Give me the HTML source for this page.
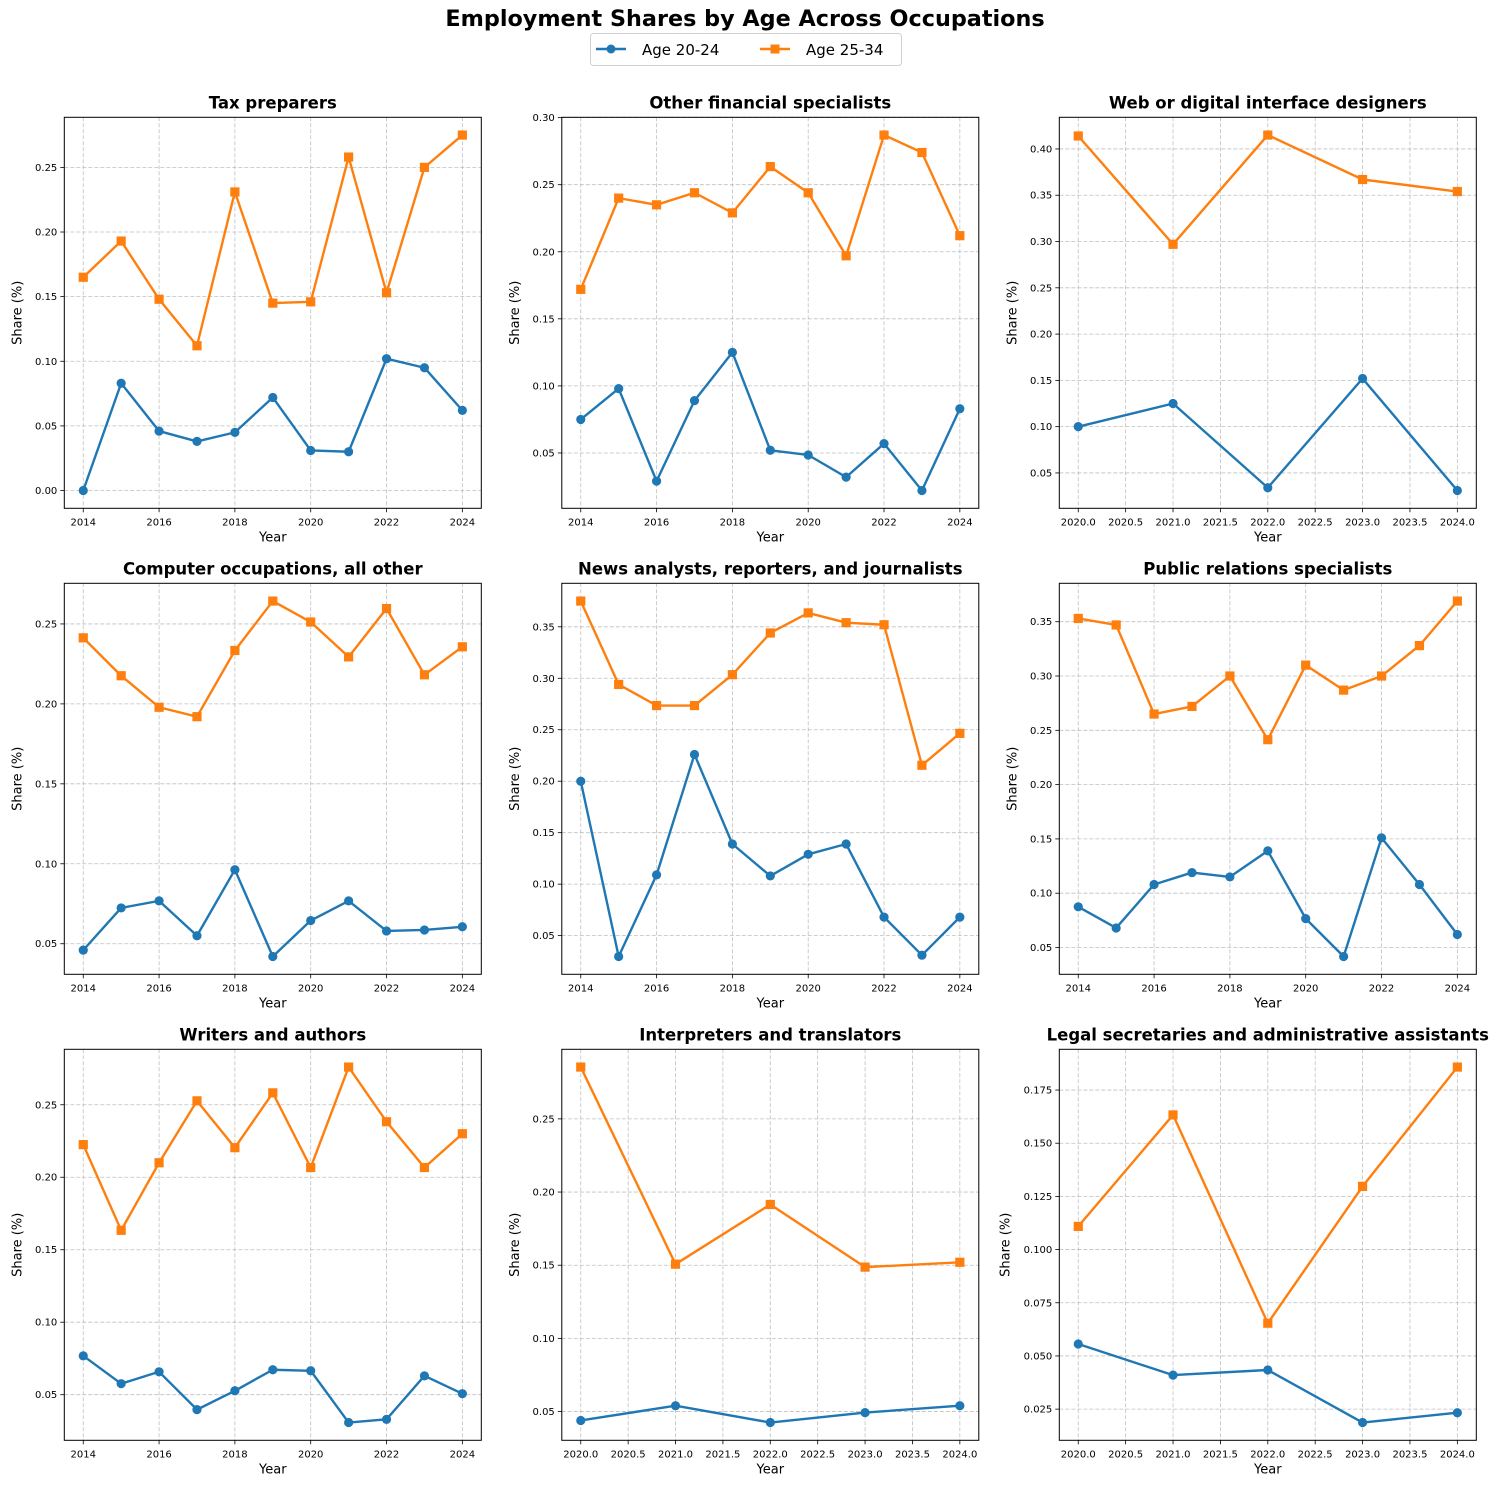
<!DOCTYPE html>
<html><head><meta charset="utf-8">
<style>
html,body{margin:0;padding:0;background:#fff;}
svg{display:block;font-family:"DejaVu Sans","Liberation Sans",sans-serif;}
</style></head>
<body>
<svg id="fig" width="1499" height="1490" viewBox="0 0 1499 1490" xmlns="http://www.w3.org/2000/svg">
<rect width="1499" height="1490" fill="#fff"/>
<text x="745" y="26" text-anchor="middle" font-size="22.3" font-weight="bold">Employment Shares by Age Across Occupations</text>
<g>
<rect x="590.5" y="33.5" width="311" height="32" rx="3" fill="#fff" stroke="#d0d0d0"/>
<g>
<line x1="596" y1="49" x2="626" y2="49" stroke="#1f77b4" stroke-width="2.4"/>
<circle cx="611" cy="49" r="4.5" fill="#1f77b4"/>
<text x="642" y="55" font-size="15">Age 20-24</text>
</g>
<g>
<line x1="760" y1="49" x2="790" y2="49" stroke="#ff7f0e" stroke-width="2.4"/>
<rect x="770.5" y="44.5" width="9" height="9" fill="#ff7f0e"/>
<text x="806" y="55" font-size="15">Age 25-34</text>
</g>
</g>
<g id="panels"></g>
</svg>
<script>
// ---- data ----
const panelTitles = ["Tax preparers","Other financial specialists","Web or digital interface designers","Computer occupations, all other","News analysts, reporters, and journalists","Public relations specialists","Writers and authors","Interpreters and translators","Legal secretaries and administrative assistants"];
const yearsLong = [2014,2015,2016,2017,2018,2019,2020,2021,2022,2023,2024];
const yearsShort = [2020,2021,2022,2023,2024];
const xTicksLong = [2014,2016,2018,2020,2022,2024];
const xTicksShort = [2020,2020.5,2021,2021.5,2022,2022.5,2023,2023.5,2024];
const taxAge2024 = [0,0.083,0.046,0.038,0.045,0.072,0.031,0.030,0.102,0.095,0.062];
const taxAge2534 = [0.165,0.193,0.148,0.112,0.231,0.145,0.146,0.258,0.153,0.250,0.275];
const finAge2024 = [0.075,0.098,0.029,0.089,0.125,0.052,0.0485,0.032,0.057,0.022,0.083];
const finAge2534 = [0.172,0.240,0.235,0.244,0.229,0.2635,0.244,0.197,0.287,0.274,0.212];
const webAge2024 = [0.100,0.125,0.034,0.152,0.031];
const webAge2534 = [0.414,0.297,0.415,0.367,0.354];
const compAge2024 = [0.046,0.0724,0.0768,0.055,0.0963,0.042,0.0645,0.0768,0.058,0.0586,0.0606];
const compAge2534 = [0.2413,0.2176,0.1979,0.192,0.2334,0.2643,0.2512,0.2294,0.2596,0.2182,0.2357];
const newsAge2024 = [0.200,0.0297,0.109,0.226,0.139,0.108,0.129,0.139,0.068,0.031,0.068];
const newsAge2534 = [0.375,0.294,0.2735,0.2735,0.3035,0.344,0.3635,0.354,0.352,0.2155,0.2465];
const prAge2024 = [0.0875,0.068,0.108,0.119,0.115,0.139,0.0766,0.0417,0.151,0.108,0.062];
const prAge2534 = [0.353,0.347,0.265,0.272,0.300,0.2414,0.310,0.287,0.300,0.328,0.369];
const writAge2024 = [0.0768,0.0576,0.0658,0.0397,0.0527,0.0672,0.0665,0.0308,0.033,0.063,0.0507];
const writAge2534 = [0.2225,0.1634,0.210,0.2527,0.2204,0.2582,0.2067,0.276,0.2383,0.2067,0.230];
const intAge2024 = [0.0439,0.054,0.0425,0.0493,0.054];
const intAge2534 = [0.2854,0.1507,0.1915,0.1487,0.152];
const legAge2024 = [0.0556,0.041,0.0434,0.0187,0.0233];
const legAge2534 = [0.1109,0.1633,0.0654,0.1297,0.1858];
const yTicks1 = [0,0.05,0.10,0.15,0.20,0.25];
const yTicks2 = [0.05,0.10,0.15,0.20,0.25,0.30];
const yTicks3 = [0.05,0.10,0.15,0.20,0.25,0.30,0.35,0.40];
const yTicks4 = [0.05,0.10,0.15,0.20,0.25];
const yTicks5 = [0.05,0.10,0.15,0.20,0.25,0.30,0.35];
const yTicks9 = [0.025,0.050,0.075,0.100,0.125,0.150,0.175];

const panels = [
 {x:yearsLong, a:taxAge2024, b:taxAge2534, yt:yTicks1, xt:xTicksLong},
 {x:yearsLong, a:finAge2024, b:finAge2534, yt:yTicks2, xt:xTicksLong},
 {x:yearsShort, a:webAge2024, b:webAge2534, yt:yTicks3, xt:xTicksShort},
 {x:yearsLong, a:compAge2024, b:compAge2534, yt:yTicks4, xt:xTicksLong},
 {x:yearsLong, a:newsAge2024, b:newsAge2534, yt:yTicks5, xt:xTicksLong},
 {x:yearsLong, a:prAge2024, b:prAge2534, yt:yTicks5, xt:xTicksLong},
 {x:yearsLong, a:writAge2024, b:writAge2534, yt:yTicks4, xt:xTicksLong},
 {x:yearsShort, a:intAge2024, b:intAge2534, yt:yTicks4, xt:xTicksShort},
 {x:yearsShort, a:legAge2024, b:legAge2534, yt:yTicks9, xt:xTicksShort}
];

const NS = "http://www.w3.org/2000/svg";
const root = document.getElementById('panels');
function mk(tag, attrs, parent){
  const e = document.createElementNS(NS, tag);
  for (const k in attrs) e.setAttribute(k, attrs[k]);
  parent.appendChild(e);
  return e;
}
const colLeft = [64.3, 561.8, 1059.3];
const rowTop = [117.3, 583.3, 1049.3];
const W = 417, H = 391;

panels.forEach((p, i) => {
  const L = colLeft[i % 3], T = rowTop[Math.floor(i / 3)];
  const g = mk('g', {}, root);
  
  
  const all = p.a.concat(p.b);
  const ymin = Math.min(...all), ymax = Math.max(...all), yr = ymax - ymin;
  const y0 = ymin - 0.05 * yr, y1 = ymax + 0.05 * yr;
  const xmin = Math.min(...p.x), xmax = Math.max(...p.x), xr = xmax - xmin;
  const x0 = xmin - 0.05 * xr, x1 = xmax + 0.05 * xr;
  const sx = v => L + (v - x0) / (x1 - x0) * W;
  const sy = v => T + H - (v - y0) / (y1 - y0) * H;
  const dec = p.xt === xTicksShort;
  const ydec = p.yt === yTicks9 ? 3 : 2;

  p.xt.forEach(t => {
    if (t < x0 || t > x1) return;
    const X = sx(t);
    const gl = mk('line', {x1:X, y1:T, x2:X, y2:T+H, stroke:'#b0b0b0', 'stroke-width':0.8, 'stroke-dasharray':'4,2', opacity:0.8}, g);
    
    
    mk('line', {x1:X, y1:T+H, x2:X, y2:T+H+4, stroke:'#000', 'stroke-width':0.8}, g);
    const tl = mk('text', {x:X, y:T+H+17, 'text-anchor':'middle', 'font-size':10}, g);
    tl.textContent = dec ? t.toFixed(1) : String(t);
    
    
  });
  p.yt.forEach(t => {
    if (t < y0 || t > y1) return;
    const Y = sy(t);
    const gl = mk('line', {x1:L, y1:Y, x2:L+W, y2:Y, stroke:'#b0b0b0', 'stroke-width':0.8, 'stroke-dasharray':'4,2', opacity:0.8}, g);
    
    
    mk('line', {x1:L-4, y1:Y, x2:L, y2:Y, stroke:'#000', 'stroke-width':0.8}, g);
    const tl = mk('text', {x:L-7, y:Y+3.5, 'text-anchor':'end', 'font-size':10}, g);
    tl.textContent = t.toFixed(ydec);
    
    
  });
  const frame = mk('rect', {x:L, y:T, width:W, height:H, fill:'none', stroke:'#000', 'stroke-width':1}, g);
  
  

  [[p.a, '#1f77b4', 'circle'], [p.b, '#ff7f0e', 'square']].forEach(([vals, col, mkr], si) => {
    const sg = mk('g', {}, g);
    
    
    const pts = vals.map((v, k) => sx(p.x[k]).toFixed(2) + ',' + sy(v).toFixed(2)).join(' ');
    const pl = mk('polyline', {points:pts, fill:'none', stroke:col, 'stroke-width':2.4, 'stroke-linejoin':'round'}, sg);
    
    
    vals.forEach((v, k) => {
      const X = sx(p.x[k]), Y = sy(v);
      let m;
      if (mkr === 'circle') m = mk('circle', {cx:X, cy:Y, r:4.6, fill:col}, sg);
      else m = mk('rect', {x:X-4.6, y:Y-4.6, width:9.2, height:9.2, fill:col}, sg);
      
      
    });
  });

  const tt = mk('text', {x:L+W/2, y:T-9, 'text-anchor':'middle', 'font-size':16.5, 'font-weight':'bold'}, g);
  tt.textContent = panelTitles[i];
  
  
  const xl = mk('text', {x:L+W/2, y:T+H+33, 'text-anchor':'middle', 'font-size':13}, g);
  xl.textContent = 'Year';
  
  
  const lx = L - (ydec === 3 ? 50 : 43), ly = T + H/2;
  const yl = mk('text', {x:lx, y:ly, 'text-anchor':'middle', 'font-size':13, transform:'rotate(-90 '+lx+' '+ly+')'}, g);
  yl.textContent = 'Share (%)';
  
  
});
</script>
</body></html>
